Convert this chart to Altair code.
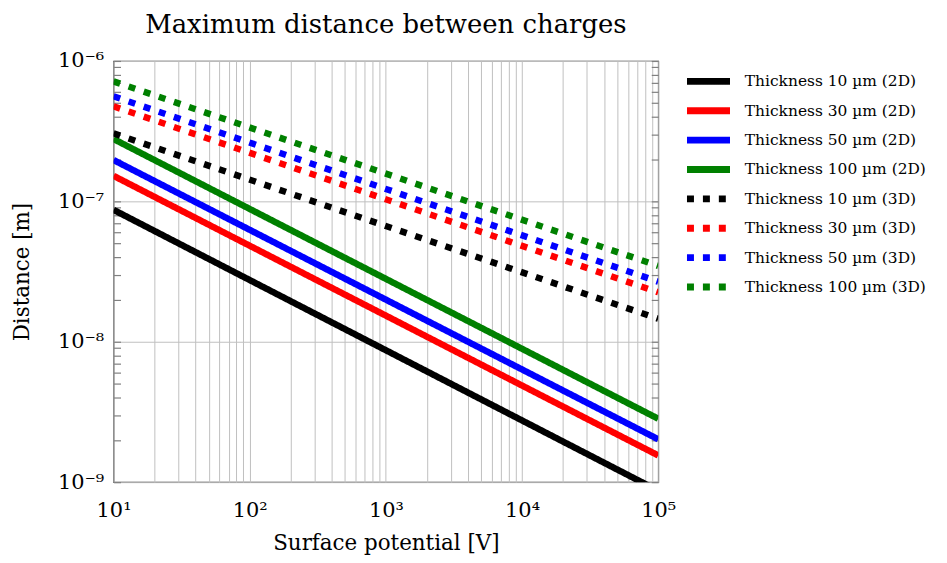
import altair as alt
import pandas as pd

# ---- data ----
x_ends = [10, 100000]
series = [
    "Thickness 10 µm (2D)", "Thickness 30 µm (2D)", "Thickness 50 µm (2D)", "Thickness 100 µm (2D)",
    "Thickness 10 µm (3D)", "Thickness 30 µm (3D)", "Thickness 50 µm (3D)", "Thickness 100 µm (3D)",
]
y_10um_2d = [8.7e-8, 8.7e-10]
y_30um_2d = [1.52e-7, 1.55e-9]
y_50um_2d = [1.97e-7, 2.02e-9]
y_100um_2d = [2.78e-7, 2.83e-9]
y_10um_3d = [3.05e-7, 1.46e-8]
y_30um_3d = [4.75e-7, 2.25e-8]
y_50um_3d = [5.6e-7, 2.68e-8]
y_100um_3d = [7.15e-7, 3.47e-8]
colors = ["#000000", "#ff0000", "#0000ff", "#008000"] * 2
dashes = [[1, 0]] * 4 + [[7, 9]] * 4

x_ticks = [m * 10 ** k for k in range(1, 5) for m in range(1, 10)] + [100000]
y_ticks = [m * 10.0 ** k for k in range(-9, -6) for m in range(1, 10)] + [1e-6]

all_y = [y_10um_2d, y_30um_2d, y_50um_2d, y_100um_2d,
         y_10um_3d, y_30um_3d, y_50um_3d, y_100um_3d]
rows = []
for name, ys in zip(series, all_y):
    for xv, yv in zip(x_ends, ys):
        rows.append({"series": name, "V": xv, "d": yv})
df = pd.DataFrame(rows)

FONT = "DejaVu Serif"
TICK = "#808080"
decade_test = "abs(log(datum.value)/LN10 - round(log(datum.value)/LN10)) < 0.001"
x_label = ("(" + decade_test + ") ? '10' + ['¹','²','³','⁴','⁵'][round(log(datum.value)/LN10) - 1] : ''")
y_label = ("(" + decade_test + ") ? '10' + ['⁻⁹','⁻⁸','⁻⁷','⁻⁶'][round(log(datum.value)/LN10) + 9] : ''")

xscale = alt.Scale(type="log", domain=[10, 100000], nice=False)
yscale = alt.Scale(type="log", domain=[1e-9, 1e-6], nice=False)

lines = alt.Chart(df).mark_line(clip=True, strokeWidth=6.5, strokeCap="butt").encode(
    x=alt.X("V:Q", scale=xscale, title="Surface potential [V]",
            axis=alt.Axis(values=x_ticks, labelExpr=x_label, grid=True, gridColor="#c0c0c0",
                          ticks=False, domain=False, labelFontSize=21, labelPadding=17,
                          titleFontSize=21.5, titleFontWeight="normal", titlePadding=13,
                          labelFont=FONT, titleFont=FONT, labelColor="black", titleColor="black",
                          labelOverlap=False, labelFlush=False)),
    y=alt.Y("d:Q", scale=yscale, title="Distance [m]",
            axis=alt.Axis(values=y_ticks, labelExpr=y_label, grid=True, gridColor="#c0c0c0",
                          gridOpacity={"condition": {"test": decade_test, "value": 1}, "value": 0},
                          ticks=True, tickSize=7, tickColor=TICK, tickWidth=1.2, offset=-7,
                          domain=False, labelFontSize=21, labelPadding=10, titleFontSize=21.5,
                          titleFontWeight="normal", titlePadding=24, labelFont=FONT, titleFont=FONT,
                          labelColor="black", titleColor="black", labelOverlap=False)),
    color=alt.Color("series:N", sort=series,
                    scale=alt.Scale(domain=series, range=colors),
                    legend=alt.Legend(title=None, symbolType="M-2.4,0H2.4", symbolSize=324,
                                      symbolStrokeWidth=7, labelFont=FONT, labelFontSize=15.5,
                                      labelColor="black", labelOffset=24, rowPadding=0.5,
                                      labelLimit=0, offset=29, padding=8)),
    strokeDash=alt.StrokeDash("series:N", sort=series,
                              scale=alt.Scale(domain=series, range=dashes), legend=None),
)

mirror = alt.Chart(df).mark_line(opacity=0).encode(
    x=alt.X("V:Q", scale=xscale, axis=alt.Axis(orient="top", labels=False, ticks=False,
                                                  domain=False, grid=False, title=None)),
    y=alt.Y("d:Q", scale=yscale, axis=alt.Axis(orient="right", values=y_ticks, labels=False,
                                                  ticks=True, tickSize=7, tickColor=TICK,
                                                  tickWidth=1.2, offset=-7, domain=False,
                                                  grid=False, title=None)),
)

chart = alt.layer(lines, mirror).resolve_scale(x="independent", y="independent").properties(
    width=547, height=423,
    padding={"left": 3, "top": 3, "right": 5, "bottom": 5},
    title=alt.Title("Maximum distance between charges", font=FONT, fontSize=26,
                    fontWeight="normal", color="black", offset=12),
).configure_view(stroke="#333", strokeWidth=1.2).configure_legend(orient="right")

chart.save("out.html", embed_options={"renderer": "svg", "actions": False})
